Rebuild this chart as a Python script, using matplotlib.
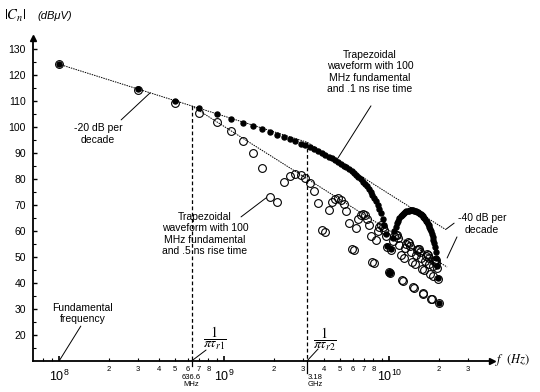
import numpy as np
import matplotlib
matplotlib.use("Agg")
import matplotlib.pyplot as plt

plt.rcParams['font.family'] = ['Liberation Sans', 'DejaVu Sans']

# Odd harmonics of a 100 MHz trapezoidal waveform (50% duty cycle)
fundamental_hz = 100e6
harmonics = [1, 3, 5, 7, 9, 11, 13, 15, 17, 19, 21, 23, 25, 27, 29, 31, 33, 35, 37, 39,
             41, 43, 45, 47, 49, 51, 53, 55, 57, 59, 61, 63, 65, 67, 69, 71, 73, 75, 77, 79,
             81, 83, 85, 87, 89, 91, 93, 95, 97, 99, 101, 103, 105, 107, 109, 111, 113, 115, 117, 119,
             121, 123, 125, 127, 129, 131, 133, 135, 137, 139, 141, 143, 145, 147, 149, 151, 153, 155, 157, 159,
             161, 163, 165, 167, 169, 171, 173, 175, 177, 179, 181, 183, 185, 187, 189, 191, 193, 195, 197, 199]

# |Cn| in dBuV, 0.1 ns rise time (filled dots)
fast_db = [124.0, 114.4, 110.0, 107.0, 104.8, 103.0, 101.5, 100.2, 99.0, 97.9,
           96.9, 96.0, 95.1, 94.3, 93.5, 92.8, 92.0, 91.3, 90.6, 89.9,
           89.2, 88.5, 87.8, 87.1, 86.4, 85.8, 85.0, 84.3, 83.6, 82.9,
           82.1, 81.3, 80.5, 79.7, 78.9, 78.0, 77.0, 76.0, 75.0, 73.9,
           72.7, 71.4, 70.0, 68.5, 66.7, 64.6, 62.1, 58.8, 54.1, 44.2,
           43.8, 53.0, 57.1, 59.7, 61.5, 62.8, 63.9, 64.8, 65.5, 66.0,
           66.5, 66.9, 67.2, 67.4, 67.6, 67.7, 67.8, 67.8, 67.8, 67.8,
           67.7, 67.6, 67.5, 67.3, 67.1, 66.9, 66.6, 66.3, 66.0, 65.7,
           65.3, 64.8, 64.4, 63.8, 63.3, 62.7, 62.0, 61.3, 60.5, 59.7,
           58.7, 57.7, 56.5, 55.2, 53.6, 51.7, 49.4, 46.3, 41.8, 32.0]

# |Cn| in dBuV, 0.5 ns rise time (open circles)
slow_db = [124.0, 114.1, 109.1, 105.3, 101.8, 98.3, 94.5, 90.0, 84.0, 72.8,
           71.1, 78.8, 81.2, 81.8, 81.5, 80.3, 78.3, 75.3, 70.5, 60.3,
           59.5, 67.9, 70.9, 72.2, 72.4, 71.7, 70.1, 67.5, 63.0, 53.1,
           52.6, 61.2, 64.6, 66.0, 66.4, 65.9, 64.5, 62.1, 57.8, 48.1,
           47.6, 56.5, 59.9, 61.5, 62.0, 61.6, 60.3, 58.0, 53.7, 44.1,
           43.8, 52.7, 56.2, 57.9, 58.5, 58.2, 57.0, 54.6, 50.5, 40.9,
           40.7, 49.6, 53.2, 54.9, 55.5, 55.3, 54.1, 51.9, 47.8, 38.2,
           38.0, 47.0, 50.6, 52.4, 53.0, 52.8, 51.7, 49.5, 45.4, 35.9,
           35.7, 44.7, 48.4, 50.2, 50.9, 50.7, 49.6, 47.3, 43.3, 33.9,
           33.7, 42.7, 46.4, 48.2, 48.9, 48.7, 47.7, 45.5, 41.4, 32.0]

# Spectral bounds: -20 dB/decade then -40 dB/decade after each corner
corner1_hz = 636.6e6
corner2_hz = 3.18e9
bound_fast_hz = [1e8, corner2_hz, 2.2e10]
bound_fast_db = [124.0, 94.0, 60.4]
bound_slow_hz = [corner1_hz, 2.24e10]
bound_slow_db = [107.9, 46.0]

freqs = np.array(harmonics) * fundamental_hz

fig = plt.figure(figsize=(5.4, 3.92), dpi=100)
ax = fig.add_axes([32.7/540, 1-360.7/392, (492-32.7)/540, (360.7-38)/392])
ax.set_xscale('log')
ax.set_xlim(6.9e7, 4.19e10)
ax.set_ylim(10, 134.1)

for s in ['top', 'right']:
    ax.spines[s].set_visible(False)
for s in ['left', 'bottom']:
    ax.spines[s].set_linewidth(1.3)
# axis arrows
ax.plot(1, 0, '>', color='k', ms=4, transform=ax.transAxes, clip_on=False)
ax.plot(0, 1, '^', color='k', ms=4, transform=ax.transAxes, clip_on=False)

# bound lines and corner frequencies
ax.plot(bound_fast_hz, bound_fast_db, color='k', lw=0.7, ls=(0, (1.5, 1)))
ax.plot(bound_slow_hz, bound_slow_db, color='k', lw=0.7, ls=(0, (1.5, 1)))
ax.plot([corner1_hz, corner1_hz], [bound_slow_db[0], 10], color='k', lw=0.9, ls=(0, (3, 2)))
ax.plot([corner2_hz, corner2_hz], [bound_fast_db[1], 10], color='k', lw=0.9, ls=(0, (3, 2)))
ax.plot([corner1_hz, corner1_hz], [10, 8], color='k', lw=0.9, clip_on=False)
ax.plot([corner2_hz, corner2_hz], [10, 5.3], color='k', lw=0.9, clip_on=False)

# spectrum points
ax.plot(freqs, slow_db, 'o', mfc='none', mec='k', ms=5.6, mew=0.8, clip_on=False)
ax.plot(freqs, fast_db, 'o', color='k', ms=3.6, clip_on=False)

# ticks
ax.set_xticks([1e8, 1e9, 1e10])
ax.set_xticklabels([r'$\mathregular{10^{8}}$', r'$\mathregular{10^{9}}$', r'$\mathregular{10^{10}}$'])
minor = [8e7, 9e7] + [k * 1e8 for k in range(2, 10)] + [k * 1e9 for k in range(2, 10)] + [2e10, 3e10]
minor_lab = ['', ''] + ['2', '3', '4', '5', '6', '7', '8', ''] * 2 + ['2', '3']
ax.set_xticks(minor, minor=True)
ax.set_xticklabels(minor_lab, minor=True)
ax.tick_params(axis='x', which='major', direction='in', length=3.5, width=1.2, labelsize=9, pad=6)
ax.tick_params(axis='x', which='minor', direction='in', length=2, width=0.8, labelsize=5.5, pad=3.5)
ax.set_yticks(range(20, 131, 10))
ax.set_yticks(range(15, 130, 10), minor=True)
ax.tick_params(axis='y', which='major', direction='in', length=3, width=1, labelsize=7.5, pad=5)
ax.tick_params(axis='y', which='minor', direction='in', length=2, width=0.8)

# annotations
txt = dict(fontsize=7.5, ha='center', va='center', linespacing=1.15)
lead = dict(arrowstyle='-', lw=0.7, color='k', shrinkA=0, shrinkB=0)
ax.text(1.72e8, 97.2, '-20 dB per\ndecade', **txt)
ax.annotate('', xy=(3.55e8, 113.0), xytext=(2.37e8, 102.6), arrowprops=lead)
ax.text(7.64e9, 121.0, 'Trapezoidal\nwaveform with 100\nMHz fundamental\nand .1 ns rise time', **txt)
ax.annotate('', xy=(4.89e9, 88.0), xytext=(7.74e9, 108.0), arrowprops=lead)
ax.text(7.64e8, 58.7, 'Trapezoidal\nwaveform with 100\nMHz fundamental\nand .5 ns rise time', **txt)
ax.annotate('', xy=(1.79e9, 72.6), xytext=(1.263e9, 65.3), arrowprops=lead)
ax.text(3.65e10, 62.6, '-40 dB per\ndecade', clip_on=False, **txt)
ax.annotate('', xy=(2.21e10, 60.6), xytext=(2.47e10, 62.9), arrowprops=lead)
ax.annotate('', xy=(2.24e10, 49.5), xytext=(2.57e10, 57.6), arrowprops=lead)
ax.text(1.39e8, 28.3, 'Fundamental\nfrequency', **txt)
ax.annotate('', xy=(1e8, 10), xytext=(1.35e8, 23.3), arrowprops=lead)

ax.text(8.78e8, 18.7, r'$\dfrac{1}{\pi\tau_{r1}}$', fontsize=10, ha='center', va='center', math_fontfamily='stix')
ax.annotate('', xy=(7.75e8, 14.1), xytext=(corner1_hz, 10), arrowprops=lead)
ax.text(4.07e9, 18.0, r'$\dfrac{1}{\pi\tau_{r2}}$', fontsize=10, ha='center', va='center', math_fontfamily='stix')
ax.annotate('', xy=(3.70e9, 14.5), xytext=(corner2_hz, 10), arrowprops=lead)
ax.text(6.28e8, 2.2, '636.6\nMHz', fontsize=5.5, ha='center', va='center', linespacing=1.0, clip_on=False)
ax.text(3.55e9, 2.2, '3.18\nGHz', fontsize=5.5, ha='center', va='center', linespacing=1.0, clip_on=False)

# axis titles
fig.text(15/540, 1-16/392, r'$|C_n|$', fontsize=10.5, ha='center', va='center', math_fontfamily='stix')
fig.text(55/540, 1-16/392, '(dBμV)', fontsize=8, style='italic', ha='center', va='center')
fig.text(495/540, 1-360/392, r'$f\ \ (Hz)$', fontsize=9, ha='left', va='center', math_fontfamily='stix')

fig.savefig('out.png', dpi=100)
